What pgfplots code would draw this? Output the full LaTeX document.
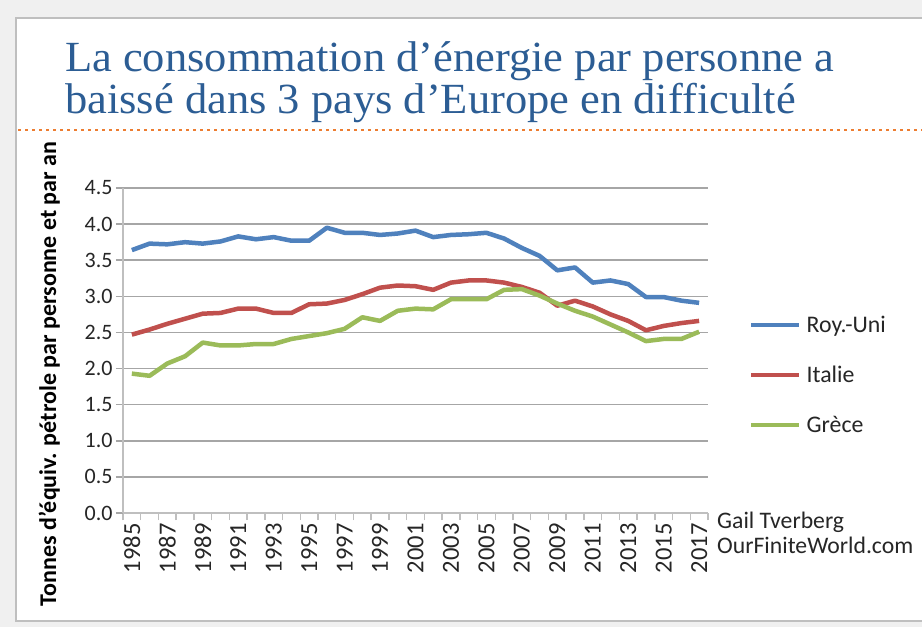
\documentclass[border=0pt]{standalone}
\usepackage{fontspec}
\setmainfont{Carlito}
\newfontfamily\titlefont[FakeStretch=1.035]{Liberation Serif}
\usepackage{pgfplots}
\pgfplotsset{compat=1.18}
\usepackage{pgfplotstable}
\definecolor{ukblue}{HTML}{4F81BD}
\definecolor{itred}{HTML}{C0504D}
\definecolor{grgreen}{HTML}{9BBB59}
\definecolor{titleblue}{HTML}{2C5D94}
\definecolor{dashorange}{HTML}{ED7D31}
\definecolor{gridgray}{HTML}{A6A6A6}
\definecolor{axisgray}{HTML}{BFBFBF}
\definecolor{txt}{HTML}{262626}

\pgfplotstableread{
year uk it gr
1985 3.64 2.47 1.93
1986 3.73 2.54 1.90
1987 3.72 2.62 2.07
1988 3.75 2.69 2.17
1989 3.73 2.76 2.36
1990 3.76 2.77 2.32
1991 3.83 2.83 2.32
1992 3.79 2.83 2.34
1993 3.82 2.77 2.34
1994 3.77 2.77 2.41
1995 3.77 2.89 2.45
1996 3.95 2.90 2.49
1997 3.88 2.95 2.55
1998 3.88 3.03 2.71
1999 3.85 3.12 2.66
2000 3.87 3.15 2.80
2001 3.91 3.14 2.83
2002 3.82 3.09 2.82
2003 3.85 3.19 2.96
2004 3.86 3.22 2.96
2005 3.88 3.22 2.96
2006 3.80 3.19 3.09
2007 3.67 3.13 3.10
2008 3.56 3.05 3.01
2009 3.36 2.87 2.90
2010 3.40 2.94 2.80
2011 3.19 2.86 2.72
2012 3.22 2.75 2.61
2013 3.17 2.66 2.50
2014 2.99 2.53 2.38
2015 2.99 2.59 2.41
2016 2.94 2.63 2.41
2017 2.91 2.66 2.51
}\data

\begin{document}
\begin{tikzpicture}
\useasboundingbox (0pt,0pt) rectangle (922pt,-627pt);
\fill[gray!12] (0pt,0pt) rectangle (922pt,-627pt);
\fill[white] (16pt,-18pt) rectangle (940pt,-621pt);
\draw[axisgray, line width=2pt] (940pt,-18pt) -- (16pt,-18pt) -- (16pt,-621pt) -- (940pt,-621pt);
\node[anchor=base west, inner sep=0pt, text=titleblue, font=\titlefont\fontsize{43}{46}\selectfont] at (65pt,-71pt) {La consommation d’énergie par personne a};
\node[anchor=base west, inner sep=0pt, text=titleblue, font=\titlefont\fontsize{43}{46}\selectfont] at (65pt,-113pt) {baissé dans 3 pays d’Europe en difficulté};
\draw[dashorange, line width=2.5pt, dash pattern=on 3pt off 4pt] (18pt,-130pt) -- (922pt,-130pt);

\begin{axis}[
  at={(123pt,-513pt)}, anchor=south west,
  scale only axis, width=585pt, height=325pt,
  xmin=1984.5, xmax=2017.5, ymin=0, ymax=4.5,
  axis lines=left,
  axis line style={-, axisgray, line width=2pt},
  xtick={1985,1987,...,2017},
  xticklabel style={rotate=90, anchor=east, font=\fontsize{24.5}{26}\selectfont, text=txt},
  xticklabel={\pgfmathprintnumber[1000 sep={},assume math mode=true]{\tick}},
  minor xtick={1984.5,1985.5,...,2017.5},
  ytick={0,0.5,1,1.5,2,2.5,3,3.5,4,4.5},
  yticklabel style={font=\fontsize{22}{24}\selectfont, text=txt,
    /pgf/number format/fixed, /pgf/number format/fixed zerofill,
    /pgf/number format/precision=1, /pgf/number format/assume math mode=true},
  tick align=outside,
  major tick length=7pt, minor tick length=7pt,
  x tick style={draw=none},
  minor x tick style={draw=axisgray, line width=1.5pt},
  y tick style={draw=gridgray, line width=1.5pt},
  ymajorgrids,
  grid style={gridgray, line width=1.5pt},
  ylabel={Tonnes d'équiv. pétrole par personne et par an},
  every axis y label/.style={at={(axis description cs:-0.126,0.428)}, rotate=90, anchor=center, font=\bfseries\fontsize{24}{26}\selectfont},
  legend style={at={(axis description cs:1.07,0.612)}, anchor=north west, draw=none, fill=none,
    inner sep=0pt, row sep=28pt, font=\fontsize{23.8}{25}\selectfont, text=txt,
    nodes={inner xsep=5pt}},
  legend cell align=left,
  legend image code/.code={\draw[#1, line width=4.5pt] (0pt,0pt) -- (48pt,0pt);},
  clip=false,
]
\addplot[ukblue, line width=4.5pt, line join=round, no marks] table[x=year, y=uk] {\data};
\addlegendentry{Roy.-Uni}
\addplot[itred, line width=4.5pt, line join=round, no marks] table[x=year, y=it] {\data};
\addlegendentry{Italie}
\addplot[grgreen, line width=4.5pt, line join=round, no marks] table[x=year, y=gr] {\data};
\addlegendentry{Grèce}
\end{axis}
\node[anchor=base west, inner sep=0pt, text=txt, font=\fontsize{23.7}{25}\selectfont] at (717pt,-528pt) {Gail Tverberg};
\node[anchor=base west, inner sep=0pt, text=txt, font=\fontsize{23.7}{25}\selectfont] at (717pt,-553pt) {OurFiniteWorld.com};
\end{tikzpicture}
\end{document}
